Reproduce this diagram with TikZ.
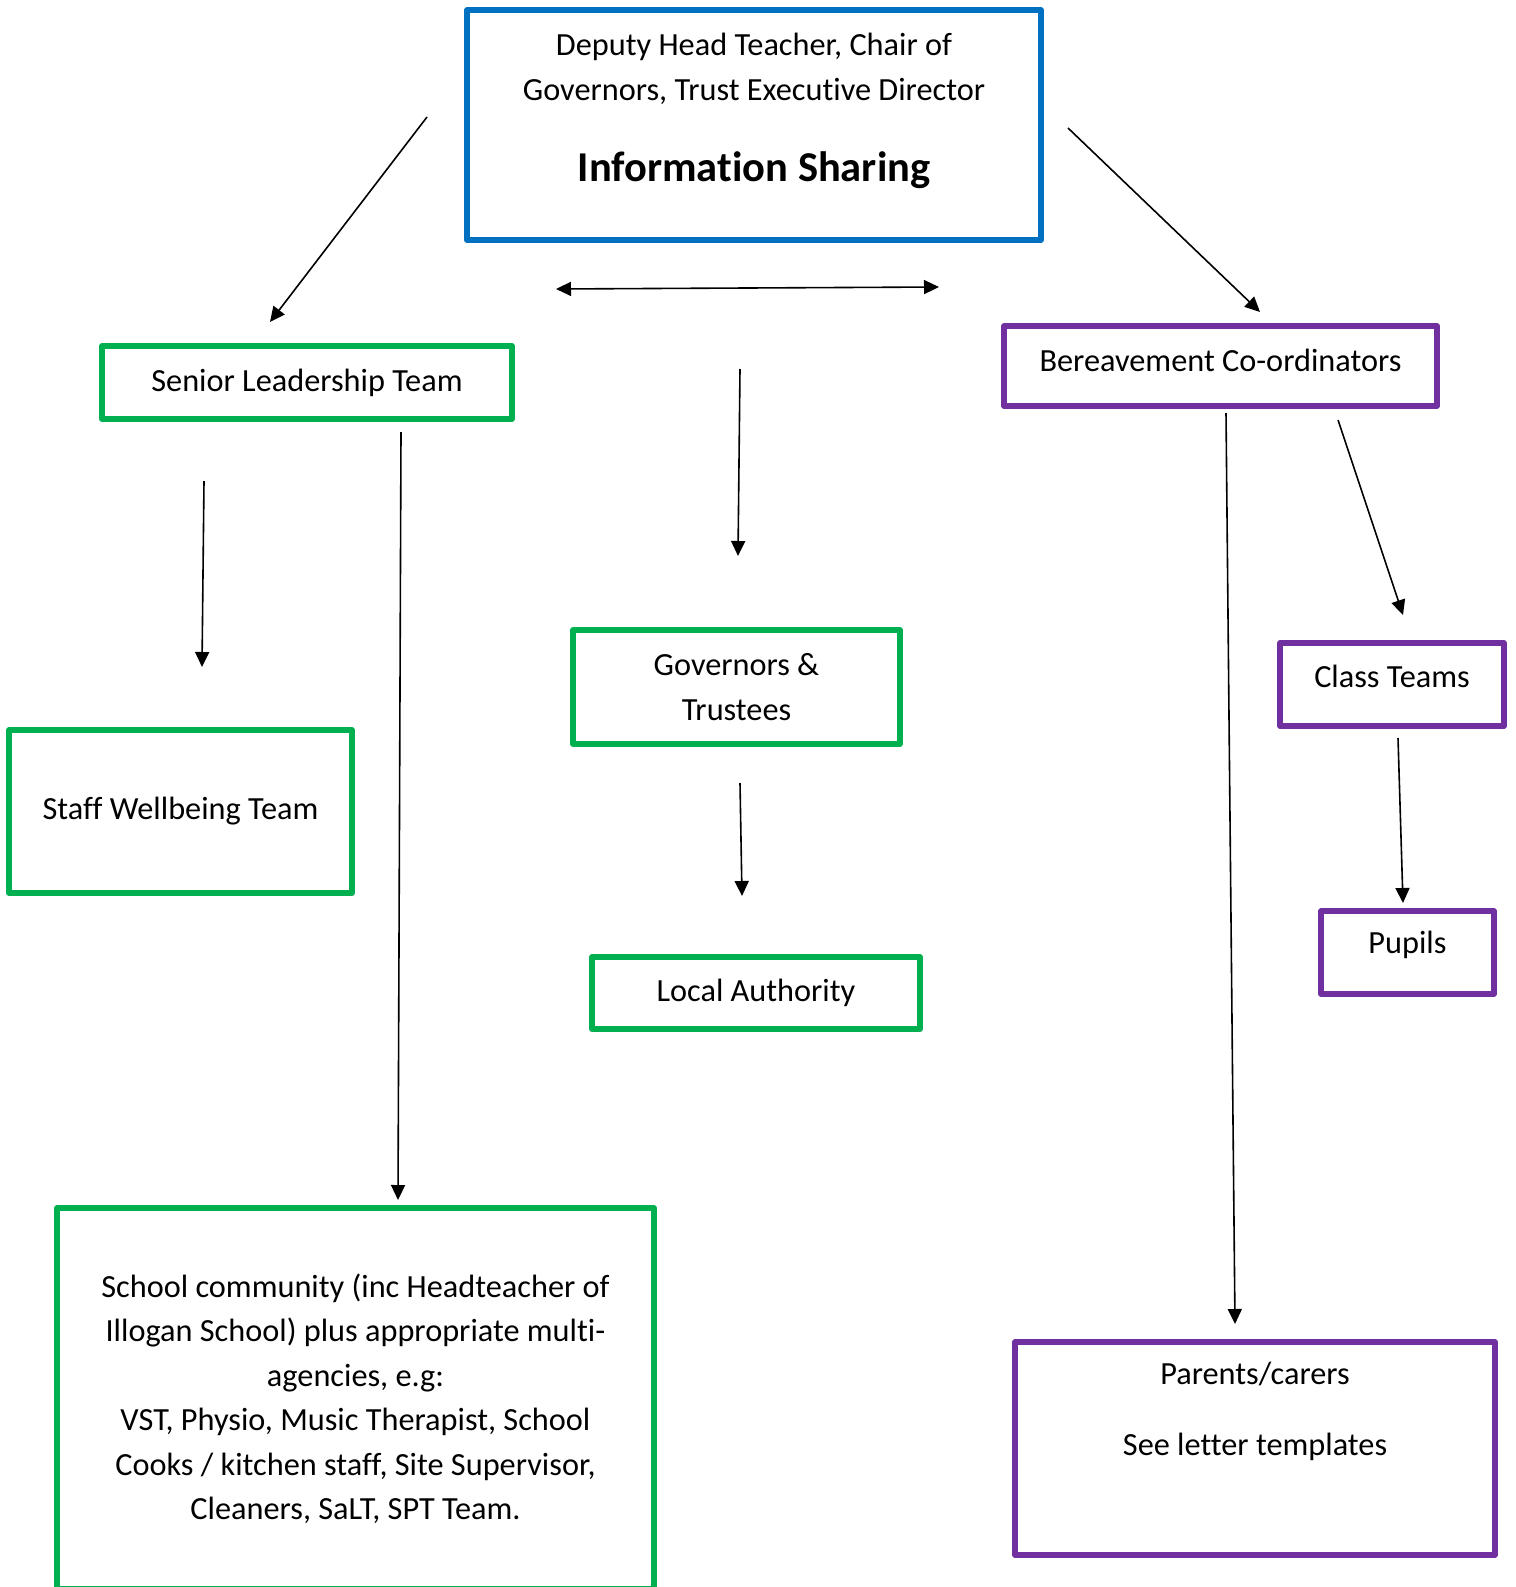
\documentclass[tikz,border=0pt]{standalone}
\usepackage{fontspec}
\setmainfont{Carlito}[Ligatures=NoCommon]
\usepackage{xcolor}
\usetikzlibrary{arrows.meta, positioning, calc}

\definecolor{infoblue}{HTML}{0070C0}
\definecolor{infogreen}{HTML}{00B050}
\definecolor{infopurple}{HTML}{7030A0}

\begin{document}
\begin{tikzpicture}[x=1pt, y=-1pt,
    box/.style={draw, rectangle, line width=5.5pt, line join=round, align=center,
        inner sep=0pt, font=\fontsize{32.3pt}{44.5pt}\selectfont},
    bluebox/.style={box, draw=infoblue},
    greenbox/.style={box, draw=infogreen},
    purplebox/.style={box, draw=infopurple},
    arr/.style={line width=1.6pt, -{Triangle[length=15pt,width=14pt]}},
    dblarr/.style={line width=1.6pt, {Triangle[length=15pt,width=14pt]}-{Triangle[length=15pt,width=14pt]}}]
\useasboundingbox (0,0) rectangle (1515,1587);

% Boxes
\node[bluebox, minimum width=574pt, minimum height=230pt] (head) at (754,125)
    {Deputy Head Teacher, Chair of\\Governors, Trust Executive Director\\[37pt]{\fontsize{42.5pt}{44.5pt}\selectfont\bfseries Information Sharing}\\[-10pt]\mbox{}};
\node[greenbox, minimum width=410pt, minimum height=73pt] (slt) at (307,382.5) {Senior Leadership Team};
\node[purplebox, minimum width=433pt, minimum height=80pt] (berv) at (1220.5,366)
    {\raisebox{6pt}[\height][\depth]{Bereavement Co-ordinators}};
\node[greenbox, minimum width=327pt, minimum height=114pt] (gov) at (736.5,687) {Governors \&\\Trustees};
\node[greenbox, minimum width=343pt, minimum height=163pt] (staff) at (180.5,811.5) {Staff Wellbeing Team};
\node[purplebox, minimum width=224pt, minimum height=83pt] (class) at (1392,684.5)
    {\raisebox{8pt}[\height][\depth]{Class Teams}};
\node[purplebox, minimum width=173pt, minimum height=83pt] (pupils) at (1407.5,952.5)
    {\raisebox{8pt}[\height][\depth]{Pupils}};
\node[greenbox, minimum width=328pt, minimum height=72pt] (la) at (756,993) {Local Authority};
\node[greenbox, minimum width=597pt, minimum height=381pt] (school) at (355.5,1398.5)
    {School community (inc Headteacher of\\Illogan School) plus appropriate multi-\\agencies, e.g:\\VST, Physio, Music Therapist, School\\Cooks / kitchen staff, Site Supervisor,\\Cleaners, SaLT, SPT Team.};
\node[purplebox, minimum width=480pt, minimum height=213pt, font=\fontsize{32.3pt}{36pt}\selectfont] (parents) at (1255,1448.5)
    {Parents/carers\\[35pt]See letter templates\\[43pt]\mbox{}};

% Arrow ends
\coordinate (hs1) at (427,117);   \coordinate (hs2) at (270,322);
\coordinate (hb1) at (1068,128);  \coordinate (hb2) at (1260,312);
\coordinate (lr1) at (556,289);   \coordinate (lr2) at (939,287);
\coordinate (hg1) at (740,369);   \coordinate (hg2) at (738,556);
\coordinate (ss1) at (204,481);   \coordinate (ss2) at (202,667);
\coordinate (sc1) at (401,432);   \coordinate (sc2) at (398,1200);
\coordinate (bp1) at (1226,413);  \coordinate (bp2) at (1235,1324);
\coordinate (bc1) at (1338,420);  \coordinate (bc2) at (1403,615);
\coordinate (cp1) at (1398,738);  \coordinate (cp2) at (1403,903);
\coordinate (gl1) at (740,783);   \coordinate (gl2) at (742,896);

% Arrows
\draw[arr] (hs1) -- (hs2);
\draw[arr] (hb1) -- (hb2);
\draw[dblarr] (lr1) -- (lr2);
\draw[arr] (hg1) -- (hg2);
\draw[arr] (ss1) -- (ss2);
\draw[arr] (sc1) -- (sc2);
\draw[arr] (bp1) -- (bp2);
\draw[arr] (bc1) -- (bc2);
\draw[arr] (cp1) -- (cp2);
\draw[arr] (gl1) -- (gl2);
\end{tikzpicture}
\end{document}
